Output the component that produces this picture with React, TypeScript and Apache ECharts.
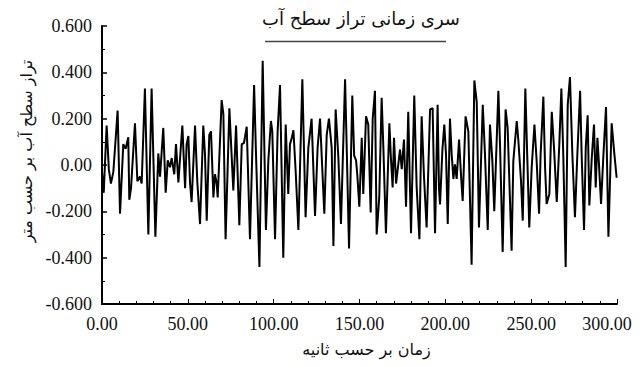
import React, { useEffect, useRef } from "react";
import * as echarts from "echarts";

const times = [
  0.0, 1.0, 2.7, 4.0, 5.2, 6.6, 9.1, 10.5, 12.4, 13.8, 15.3, 15.9, 16.9, 19.2, 20.6, 22.1, 23.1, 25.0, 27.0, 28.9,
  31.1, 32.8, 33.8, 35.7, 37.1, 38.3, 39.6, 40.6, 42.1, 43.1, 44.5, 46.8,
  48.4, 49.3, 50.3, 51.3, 52.2, 54.2, 55.5, 57.1, 59.0, 60.0, 61.0, 62.5, 63.5, 64.9, 65.8, 66.8, 67.4, 69.7,
  70.7, 72.0, 74.2, 76.5, 78.1, 80.0, 81.4, 82.7, 84.3, 86.2, 88.6, 89.7, 91.7, 93.6, 95.5, 96.9,
  98.4, 99.2, 100.8, 102.3, 103.7, 105.6, 107.0, 108.5, 109.5, 110.5, 111.5, 112.8, 114.4, 116.7, 118.6, 120.2,
  122.1, 124.1, 125.6, 127.0, 129.5, 130.9, 132.2, 133.8, 134.8, 136.1, 137.7, 139.2, 141.6, 142.5, 143.9, 145.8,
  146.9, 148.0, 148.7, 149.9, 151.3, 152.2, 153.8, 155.1, 156.5, 157.7, 159.0, 160.0, 161.5, 162.9, 163.9, 165.4,
  167.4, 168.2, 169.3, 170.1, 171.3, 172.6, 173.6, 174.6, 175.9, 177.1, 178.4, 180.0, 181.9, 183.3, 184.9, 186.2,
  187.6, 189.1, 191.1, 192.6, 194.0,
  195.5, 196.3, 196.9, 198.3, 199.4, 200.4, 201.4, 202.7, 203.7, 204.7, 205.6, 206.6, 208.0, 209.1, 210.1, 211.8,
  213.4, 215.3, 216.9, 218.3, 219.6, 221.8, 223.1, 224.7, 226.0, 227.4, 228.5, 230.9, 231.9, 233.4, 235.1, 236.3,
  238.6, 239.6, 241.6, 242.5, 244.1, 245.1,
  246.6, 247.8, 248.9, 250.3, 251.9, 253.2, 254.6, 255.5, 257.1, 258.1, 259.0, 260.6, 262.0, 263.3, 264.9, 266.4,
  267.6, 268.7, 270.1, 271.3, 272.6, 274.0, 275.5, 276.9, 278.5, 279.4, 280.8, 281.8, 282.9, 283.9, 285.3, 286.6,
  287.6, 288.6, 289.5, 290.7, 292.1, 293.6, 295.0, 296.9, 298.5, 299.8,
];

const levels = [
  -0.03, -0.12, 0.17, -0.02, -0.08, -0.03, 0.235, -0.21, 0.09, 0.07, 0.12, -0.15, -0.1, 0.18, -0.07, -0.05, -0.08, 0.33, -0.3, 0.33,
  -0.31, 0.05, -0.05, 0.16, -0.12, 0.02, -0.01, 0.03, -0.04, 0.09, -0.075, 0.17,
  -0.1, 0.09, 0.125, -0.08, -0.16, 0.17, -0.07, -0.255, 0.17, 0.045, -0.24, 0.13, 0.145, -0.14, -0.04, -0.08, -0.14, 0.28,
  0.22, -0.32, 0.245, -0.11, 0.17, -0.26, 0.09, 0.095, 0.165, -0.32, 0.345, 0.05, -0.44, 0.45, -0.28, 0.02,
  0.19, 0.145, -0.32, 0.145, 0.345, -0.4, 0.175, -0.125, 0.09, 0.115, 0.15, -0.025, -0.28, 0.37, -0.225, 0.075,
  0.2, -0.22, 0.075, 0.2, -0.21, 0.13, 0.2, 0.075, -0.35, 0.24, 0.03, -0.255, 0.37, 0.09, -0.36, 0.3,
  0.04, 0.02, -0.04, -0.18, 0.117, -0.125, 0.21, 0.175, -0.205, 0.2, 0.32, -0.3, -0.14, 0.29, 0.075, -0.295,
  0.18, 0.045, -0.097, 0.117, -0.08, 0.003, 0.067, -0.018, 0.11, -0.18, 0.23, -0.295, 0.3, -0.097, -0.32, 0.21,
  -0.055, -0.27, 0.24, 0.245, -0.295,
  0.26, -0.1, -0.17, 0.067, 0.175, 0.045, -0.255, 0.2, 0.045, -0.06, 0.003, -0.06, 0.11, -0.04, -0.155, 0.21,
  0.145, -0.43, 0.365, 0.27, -0.27, 0.26, 0.045, -0.28, 0.175, 0.017, -0.2, 0.32, 0.075, -0.375, 0.24, 0.16,
  -0.37, 0.017, 0.19, 0.11, -0.07, -0.24,
  0.33, 0.017, -0.27, -0.011, 0.175, 0.017, -0.21, 0.045, 0.295, -0.011, -0.168, -0.125, 0.23, 0.075, -0.16, 0.09,
  0.33, 0.045, -0.44, 0.26, 0.38, 0.045, -0.225, 0.045, 0.32, 0.045, -0.28, 0.075, 0.215, -0.175, 0.03, 0.175,
  -0.097, 0.117, 0.003, -0.168, 0.045, 0.25, -0.31, 0.18, 0.045, -0.055,
];

const chartTitle = "سری زمانی تراز سطح آب";
const xAxisName = "زمان بر حسب ثانیه";
const yAxisName = "تراز سطح آب بر حسب متر";

const numFont = "'Liberation Serif', 'DejaVu Serif', serif";
const arFont = "'DejaVu Sans', 'Noto Sans', sans-serif";

export default function App() {
  const ref = useRef<HTMLDivElement>(null);

  useEffect(() => {
    if (!ref.current) return;
    document.body.style.margin = "0";
    const chart = echarts.init(ref.current, null, { renderer: "svg" });
    const data = times.map((t, i) => [t, levels[i]]);
    chart.setOption({
      animation: false,
      backgroundColor: "#ffffff",
      title: {
        text: chartTitle,
        left: 356,
        top: 4,
        textAlign: "center",
        textStyle: { fontFamily: arFont, fontSize: 18, fontWeight: "normal", color: "#111" },
      },
      graphic: [
        {
          type: "line",
          shape: { x1: 265, y1: 41.5, x2: 446, y2: 41.5 },
          style: { stroke: "#444", lineWidth: 1.5 },
        },
      ],
      grid: { left: 102, right: 27, top: 26, bottom: 63 },
      xAxis: {
        type: "value",
        min: 0,
        max: 300,
        interval: 50,
        name: xAxisName,
        nameLocation: "middle",
        nameGap: 37,
        nameTextStyle: { fontFamily: arFont, fontSize: 16, color: "#111", padding: [0, 0, 0, 14] },
        axisLine: { show: true, onZero: false, lineStyle: { color: "#000", width: 2 } },
        axisTick: { show: true, inside: true, length: 5, lineStyle: { color: "#000", width: 1 } },
        minorTick: { show: true, splitNumber: 5, length: 3, lineStyle: { color: "#000", width: 1 } },
        splitLine: { show: false },
        axisLabel: {
          margin: 11,
          fontFamily: numFont,
          fontSize: 18,
          color: "#111",
          formatter: (v: number) => (v === 300 ? "{last|300.00}" : v.toFixed(2)),
          rich: {
            last: { fontFamily: numFont, fontSize: 18, color: "#111", padding: [0, 20, 0, 0] },
          },
        },
      },
      yAxis: {
        type: "value",
        min: -0.6,
        max: 0.6,
        interval: 0.2,
        name: yAxisName,
        nameLocation: "middle",
        nameGap: 63,
        nameTextStyle: { fontFamily: arFont, fontSize: 16, color: "#111", padding: [0, 0, 0, 28] },
        axisLine: { show: true, onZero: false, lineStyle: { color: "#000", width: 2 } },
        axisTick: { show: true, inside: true, length: 5, lineStyle: { color: "#000", width: 1.5 } },
        minorTick: { show: true, splitNumber: 2, length: 3, lineStyle: { color: "#000", width: 1 } },
        splitLine: { show: false },
        axisLabel: {
          margin: 10,
          fontFamily: numFont,
          fontSize: 18,
          color: "#111",
          formatter: (v: number) => (Math.abs(v) < 1e-9 ? "0.00" : v.toFixed(3)),
        },
      },
      series: [
        {
          type: "line",
          data,
          showSymbol: false,
          symbol: "none",
          lineStyle: { color: "#000", width: 2 },
        },
      ],
    });
    return () => chart.dispose();
  }, []);

  return <div ref={ref} style={{ width: 644, height: 367 }} />;
}
